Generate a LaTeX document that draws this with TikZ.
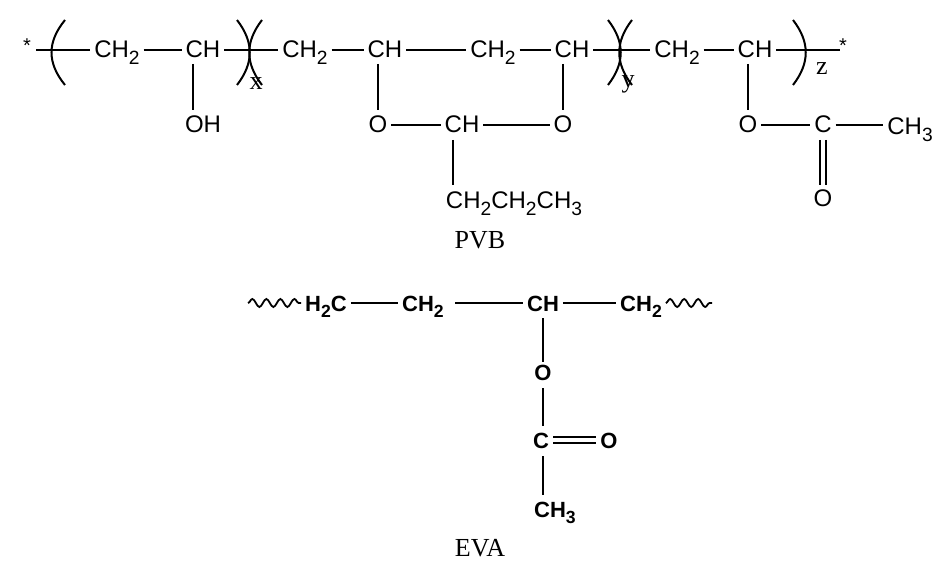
\documentclass[tikz,border=0pt]{standalone}
\usepackage{fontspec}
\setmainfont{Liberation Sans}
\newfontfamily\tms{Liberation Serif}
\usetikzlibrary{decorations.pathmorphing}
\newcommand\lo[1]{\raisebox{-0.3em}{\scalebox{0.8}{#1}}}
\begin{document}
\begin{tikzpicture}[x=1pt,y=-1pt,line width=2pt,
  atm/.style={inner sep=3pt,text height=0.72em,text depth=0.3em,font=\fontsize{24}{26}\selectfont},
  ev/.style={inner sep=3pt,text height=0.72em,text depth=0.3em,font=\fontsize{22}{24}\selectfont\bfseries},
  lb/.style={inner sep=0pt,font=\fontsize{26}{28}\selectfont\tms},
  par/.style={line width=2pt},
  wav/.style={line width=1.8pt,decorate,decoration={snake,segment length=14,amplitude=4}}]
\useasboundingbox (0,0) rectangle (948,567);
% PVB
\node[inner sep=0pt,font=\fontsize{20}{22}\selectfont] (s1) at (27,46) {*};
\node[atm] (a1) at (117,55) {CH\lo{2}};
\node[atm] (a2) at (203,55) {CH};
\node[atm] (a3) at (203,130) {OH};
\node[atm] (b1) at (305,55) {CH\lo{2}};
\node[atm] (b2) at (385,55) {CH};
\node[atm] (b3) at (378,130) {O};
\node[atm] (b4) at (462,130) {CH};
\node[atm] (b5) at (514,206) {CH\lo{2}CH\lo{2}CH\lo{3}};
\node[atm] (c1) at (493,55) {CH\lo{2}};
\node[atm] (c2) at (572,55) {CH};
\node[atm] (c3) at (563,130) {O};
\node[atm] (d1) at (677,55) {CH\lo{2}};
\node[atm] (d2) at (755,55) {CH};
\node[atm] (d3) at (748,130) {O};
\node[atm] (d4) at (823,130) {C};
\node[atm] (d5) at (910,132) {CH\lo{3}};
\node[atm] (d6) at (823,204) {O};
\node[inner sep=0pt,font=\fontsize{20}{22}\selectfont] (s2) at (843,46) {*};
\node[lb] (lx) at (256,84) {x};
\node[lb] (ly) at (628,84) {y};
\node[lb] (lz) at (822,69) {z};
\node[lb] (pvb) at (480,240) {PVB};
\coordinate (p0) at (36,50);
\coordinate (p1) at (840,50);
\coordinate (r0) at (0,125);
\draw (p0) -- (a1.west |- p0);
\draw (a1.east |- p0) -- (a2.west |- p0);
\draw (a2.east |- p0) -- (b1.west |- p0);
\draw (b1.east |- p0) -- (b2.west |- p0);
\draw (b2.east |- p0) -- (c1.west |- p0);
\draw (c1.east |- p0) -- (c2.west |- p0);
\draw (c2.east |- p0) -- (d1.west |- p0);
\draw (d1.east |- p0) -- (d2.west |- p0);
\draw (d2.east |- p0) -- (p1);
\draw (193,64) -- (193,110);
\draw (378,64) -- (378,110);
\draw (b3.east |- r0) -- (b4.west |- r0);
\draw (453,140) -- (453,185);
\draw (b4.east |- r0) -- (c3.west |- r0);
\draw (563,64) -- (563,110);
\draw (748,64) -- (748,110);
\draw (d3.east |- r0) -- (d4.west |- r0); \draw (d4.east |- r0) -- (d5.west |- r0);
\draw (820,140) -- (820,185); \draw (826,140) -- (826,185);
% brackets
\begin{scope}[par]
\draw (65,20) .. controls (47,42) and (47,63) .. (65,85);
\draw (237,20) .. controls (254,42) and (254,63) .. (237,85);
\draw (262,20) .. controls (245,42) and (245,63) .. (262,85);
\draw (608,20) .. controls (625,42) and (625,63) .. (608,85);
\draw (632,20) .. controls (615,42) and (615,63) .. (632,85);
\draw (793,20) .. controls (810,42) and (810,63) .. (793,85);
\end{scope}
% EVA
\node[ev] (e1) at (326,309) {H\lo{2}C};
\node[ev] (e2) at (423,309) {CH\lo{2}};
\node[ev] (e3) at (543,309) {CH};
\node[ev] (e4) at (641,309) {CH\lo{2}};
\node[ev] (e5) at (543,378) {O};
\node[ev] (e6) at (541,446) {C};
\node[ev] (e7) at (609,446) {O};
\node[ev] (e8) at (555,515) {CH\lo{3}};
\node[lb] (eva) at (480,548) {EVA};
\coordinate (q0) at (455,303);
\draw (e1.east |- q0) -- (e2.west |- q0);
\draw (q0) -- (e3.west |- q0);
\draw (e3.east |- q0) -- (e4.west |- q0);
\draw (543,318) -- (543,362);
\draw (543,388) -- (543,426);
\draw (553,437) -- (596,437);
\draw (553,443) -- (596,443);
\draw (543,456) -- (543,495);
\draw[wav] (248,303) -- (e1.west |- q0);
\draw[wav] (e4.east |- q0) -- (712,303);
\end{tikzpicture}
\end{document}
